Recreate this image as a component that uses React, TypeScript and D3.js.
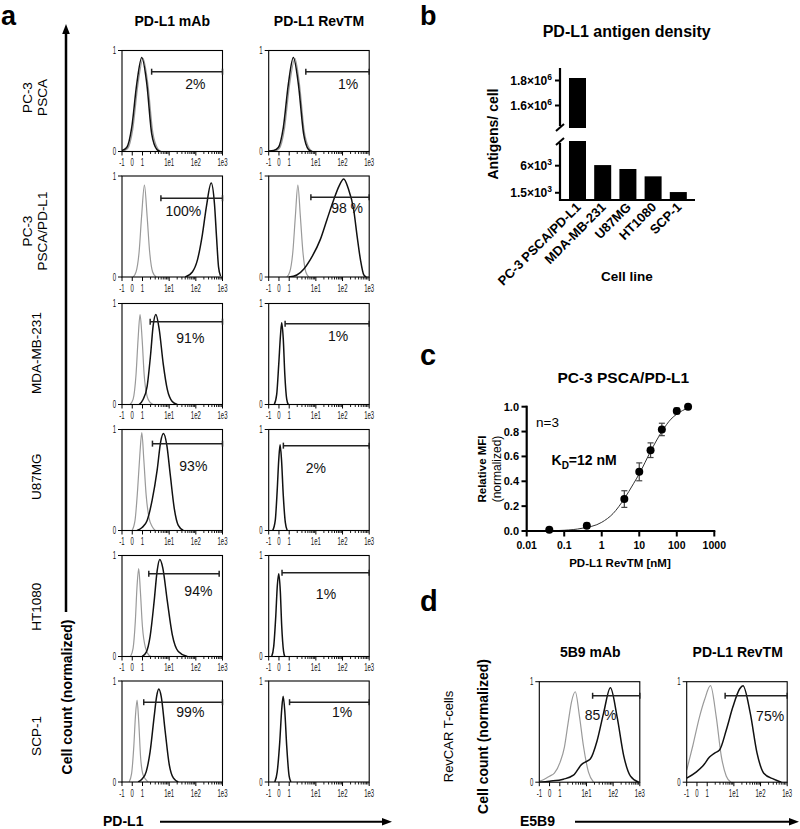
import React from "react";
import * as d3 from "d3";

const FONT = "'Liberation Sans', Arial, Helvetica, sans-serif";

// ================= DATA =================
// ---- Panel a: flow cytometry histograms (x = PD-L1 intensity, y = normalized count)
const rowLabels: string[][] = [
  ["PC-3", "PSCA"],
  ["PC-3", "PSCA/PD-L1"],
  ["MDA-MB-231"],
  ["U87MG"],
  ["HT1080"],
  ["SCP-1"],
];
const columnTitles = ["PD-L1 mAb", "PD-L1 RevTM"];
const xTickValues = [-1, 0, 1, 10, 100, 1000];
const xTickLabels = ["-1", "0", "1", "1e1", "1e2", "1e3"];
const minorTickValues = [2, 3, 4, 5, 6, 7, 8, 9, 20, 30, 40, 50, 60, 70, 80, 90, 200, 300, 400, 500, 600, 700, 800, 900];

type Pt = [number, number];

const mabControl: Pt[][] = [
  [[-1, 0], [-0.45, 0.03], [0.05, 0.22], [0.55, 0.66], [1.05, 0.92], [1.6, 0.66], [2.4, 0.2], [3.7, 0.03], [5, 0]],
  [[0.08, 0], [0.37, 0.05], [0.67, 0.25], [0.91, 0.6], [1.18, 0.91], [1.49, 0.6], [1.85, 0.25], [2.4, 0.05], [3.26, 0]],
  [[-0.22, 0], [0.08, 0.05], [0.37, 0.3], [0.57, 0.65], [0.76, 0.89], [0.96, 0.65], [1.15, 0.3], [1.49, 0.08], [1.93, 0.02], [2.51, 0]],
  [[-0.02, 0], [0.27, 0.1], [0.52, 0.4], [0.74, 0.75], [0.93, 0.97], [1.12, 0.7], [1.37, 0.35], [1.77, 0.12], [2.3, 0.04], [2.99, 0]],
  [[-0.17, 0], [0.08, 0.08], [0.3, 0.35], [0.47, 0.7], [0.63, 0.87], [0.79, 0.65], [0.99, 0.3], [1.31, 0.08], [1.77, 0.01], [2.11, 0]],
  [[-0.31, 0], [-0.07, 0.08], [0.15, 0.35], [0.31, 0.65], [0.47, 0.81], [0.63, 0.6], [0.81, 0.25], [1.05, 0.07], [1.37, 0.02], [1.63, 0]],
];
const mabStained: Pt[][] = [
  [[-1, 0.01], [-0.54, 0.04], [-0.05, 0.24], [0.44, 0.67], [0.93, 0.93], [1.45, 0.67], [2.2, 0.18], [3.46, 0.02], [4.6, 0]],
  [[40, 0], [74, 0.05], [115, 0.17], [176, 0.42], [250, 0.7], [376, 0.93], [501, 0.72], [596, 0.4], [710, 0.1], [844, 0.01]],
  [[0.67, 0], [1.05, 0.05], [1.49, 0.18], [2.02, 0.5], [2.51, 0.78], [3.17, 0.89], [4.2, 0.75], [6.0, 0.4], [8.5, 0.15], [13, 0.03], [20.2, 0]],
  [[0.47, 0], [0.96, 0.03], [1.49, 0.1], [2.3, 0.3], [3.55, 0.6], [4.81, 0.88], [6.1, 0.96], [8.1, 0.85], [11, 0.55], [15.5, 0.22], [22, 0.05], [34, 0]],
  [[0.96, 0], [1.37, 0.04], [1.93, 0.2], [2.74, 0.55], [3.55, 0.85], [4.45, 0.96], [5.73, 0.88], [8.5, 0.55], [13, 0.22], [22, 0.05], [48, 0]],
  [[0.57, 0], [0.96, 0.03], [1.37, 0.1], [1.93, 0.3], [2.74, 0.65], [3.4, 0.85], [4.08, 0.92], [5.0, 0.85], [7.1, 0.5], [10.1, 0.17], [14.3, 0.04], [22, 0]],
];
const revtmControl: (Pt[] | null)[] = [
  [[-0.52, 0], [0.03, 0.03], [0.53, 0.22], [1.03, 0.66], [1.64, 0.92], [2.44, 0.66], [3.67, 0.2], [5.7, 0.03], [7.6, 0]],
  [[0.76, 0], [1.05, 0.05], [1.37, 0.25], [1.7, 0.6], [2.11, 0.91], [2.62, 0.6], [3.26, 0.25], [4.2, 0.05], [5.5, 0]],
  null,
  null,
  null,
  null,
];
const revtmStained: Pt[][] = [
  [[-1, 0.005], [-0.52, 0.01], [-0.06, 0.04], [0.43, 0.24], [0.92, 0.67], [1.43, 0.93], [2.2, 0.67], [3.45, 0.18], [5.3, 0.02], [7.1, 0]],
  [[0.96, 0], [1.93, 0.02], [3.55, 0.08], [6.1, 0.17], [14.6, 0.37], [26.2, 0.57], [46, 0.76], [74, 0.9], [111, 0.97], [162, 0.88], [264, 0.66], [354, 0.4], [471, 0.17], [628, 0.02], [775, 0]],
  [[-0.46, 0], [-0.22, 0.1], [-0.02, 0.4], [0.16, 0.7], [0.27, 0.81], [0.42, 0.65], [0.57, 0.3], [0.76, 0.05], [0.91, 0]],
  [[-0.61, 0], [-0.36, 0.1], [-0.17, 0.4], [-0.02, 0.7], [0.11, 0.85], [0.25, 0.7], [0.42, 0.35], [0.62, 0.08], [0.81, 0]],
  [[-0.71, 0], [-0.51, 0.1], [-0.31, 0.4], [-0.16, 0.7], [-0.02, 0.82], [0.13, 0.65], [0.27, 0.3], [0.45, 0.05], [0.57, 0]],
  [[-0.41, 0], [-0.17, 0.1], [0.08, 0.4], [0.27, 0.72], [0.41, 0.85], [0.57, 0.7], [0.76, 0.35], [0.99, 0.06], [1.16, 0]],
];
// gates: [from, to, level]
const mabGates: [number, number, number][] = [
  [2.2, 1000, 0.79], [4.9, 1000, 0.78], [1.94, 1000, 0.82], [2.36, 1000, 0.86], [1.72, 750, 0.82], [1.11, 1000, 0.79],
];
const revtmGates: [number, number, number][] = [
  [4.2, 1000, 0.79], [6.5, 1000, 0.79], [0.6, 1000, 0.8], [0.43, 1000, 0.84], [0.3, 1000, 0.83], [1.03, 1000, 0.79],
];
const mabPercents = ["2%", "100%", "91%", "93%", "94%", "99%"];
const revtmPercents = ["1%", "98 %", "1%", "2%", "1%", "1%"];

// ---- Panel b: antigen density
const bCategories = ["PC-3 PSCA/PD-L1", "MDA-MB-231", "U87MG", "HT1080", "SCP-1"];
const bValues = [1820000, 6100, 5450, 4230, 1620];
const bUpperTicks = [1600000, 1800000];
const bLowerTicks = [1500, 6000];

// ---- Panel c: binding curve
const cConc = [0.04, 0.4, 4, 10, 20, 40, 100, 200];
const cMean = [0.01, 0.043, 0.257, 0.476, 0.65, 0.817, 0.966, 1.0];
const cErr = [0, 0.02, 0.067, 0.072, 0.059, 0.05, 0.023, 0];
const cFitConc = [0.04, 0.1, 0.3, 1, 2, 4, 7, 10, 20, 40, 70, 100, 200];
const cFitMean = [0.002, 0.006, 0.022, 0.07, 0.14, 0.26, 0.38, 0.46, 0.64, 0.8, 0.9, 0.94, 0.99];
const cXTicks = [0.01, 0.1, 1, 10, 100, 1000];
const cYTicks = [0, 0.2, 0.4, 0.6, 0.8, 1.0];

// ---- Panel d: RevCAR T-cells
const dTitles = ["5B9 mAb", "PD-L1 RevTM"];
const dControl: Pt[][] = [
  [[-1, 0.01], [-0.51, 0.03], [0, 0.06], [0.47, 0.09], [1.03, 0.2], [1.49, 0.35], [2.05, 0.59], [2.75, 0.8], [3.8, 0.9], [5.5, 0.65], [7.7, 0.36], [11.9, 0.1], [18.4, 0]],
  [[-1, 0.12], [-0.41, 0.36], [0.25, 0.65], [0.74, 0.82], [1.33, 0.96], [2.18, 0.65], [3.37, 0.26], [5.2, 0.06], [7.76, 0]],
];
const dStained: Pt[][] = [
  [[-1, 0], [0, 0.01], [1.36, 0.03], [3.25, 0.07], [6.8, 0.18], [9, 0.2], [13.9, 0.23], [24.9, 0.41], [44, 0.69], [79, 0.94], [141, 0.65], [251, 0.26], [447, 0.06], [910, 0]],
  [[-1, 0.04], [-0.08, 0.1], [0.57, 0.16], [1.22, 0.25], [1.9, 0.29], [2.9, 0.32], [5.2, 0.52], [9.2, 0.75], [16.6, 0.93], [22, 0.96], [41, 0.69], [74, 0.29], [132, 0.09], [312, 0.03], [600, 0]],
];
const dGates: [number, number, number][] = [[17, 1000, 0.86], [4.7, 1000, 0.86]];
const dPercents = ["85 %", "75%"];

// ================= LAYOUT =================
const aColLeft = [122, 268.7];
const aRowTop = [50.5, 176, 303.5, 429.5, 555.5, 681];
const aW = 100.5;
const aH = 101;
const aRowLabelY = [97.5, 231, 353, 476.7, 606.7, 736];
const mabLabelPos = [[0.73, 0.33], [0.61, 0.345], [0.68, 0.34], [0.71, 0.36], [0.76, 0.354], [0.68, 0.31]];
const revtmLabelPos = [[0.79, 0.33], [0.78, 0.315], [0.69, 0.32], [0.47, 0.38], [0.57, 0.377], [0.73, 0.31]];
const dColLeft = [539.3, 686.7];
const dTop = 681.7;
const dLabelPos = [[0.61, 0.33], [0.83, 0.34]];

// biexponential-like display transform: linear below 1, log above
const biexT = (v: number) => (v <= 1 ? v : 1 + 2.6 * Math.log10(v));
function biexScale(x0: number, x1: number) {
  const s = d3.scaleLinear().domain([biexT(-1), biexT(1000)]).range([x0, x1]);
  return (v: number) => s(biexT(v));
}

let clipCounter = 0;

function Histo(props: {
  left: number; top: number; w: number; h: number;
  control: Pt[] | null; stained: Pt[]; gate: [number, number, number];
  pct: string; labPos: number[];
}) {
  const { left, top, w, h, control, stained, gate, pct, labPos } = props;
  const x = biexScale(left, left + w);
  const y = d3.scaleLinear().domain([0, 1]).range([top + h, top]);
  const line = d3.line<Pt>().x((d) => x(d[0])).y((d) => y(d[1])).curve(d3.curveMonotoneX);
  const id = `clip${clipCounter++}`;
  const bottom = top + h;
  const gy = y(gate[2]);
  return (
    <g>
      <clipPath id={id}>
        <rect x={left} y={top - 2} width={w} height={h + 2} />
      </clipPath>
      <g clipPath={`url(#${id})`}>
        {control && <path d={line(control) || ""} fill="none" stroke="#9a9a9a" strokeWidth={1.2} />}
        <path d={line(stained) || ""} fill="none" stroke="#111" strokeWidth={1.5} />
      </g>
      <rect x={left} y={top} width={w} height={h} fill="none" stroke="#000" strokeWidth={1.1} />
      {/* gate */}
      <line x1={x(gate[0])} x2={x(gate[1])} y1={gy} y2={gy} stroke="#222" strokeWidth={1.5} />
      <line x1={x(gate[0])} x2={x(gate[0])} y1={gy - 3} y2={gy + 3} stroke="#222" strokeWidth={1.5} />
      <line x1={x(gate[1])} x2={x(gate[1])} y1={gy - 3} y2={gy + 3} stroke="#222" strokeWidth={1.5} />
      <text x={left + labPos[0] * w} y={top + labPos[1] * h} textAnchor="middle" dominantBaseline="central"
        fontSize={14} fontFamily={FONT} fill="#111">{pct}</text>
      {/* x ticks */}
      {xTickValues.map((v) => (
        <line key={"M" + v} x1={x(v)} x2={x(v)} y1={bottom} y2={bottom + 4} stroke="#000" strokeWidth={1} />
      ))}
      {minorTickValues.map((v) => (
        <line key={"m" + v} x1={x(v)} x2={x(v)} y1={bottom} y2={bottom + 2.5} stroke="#000" strokeWidth={0.9} />
      ))}
      {xTickValues.map((v, i) => (
        <text key={"t" + v} transform={`translate(${x(v)},${bottom + 14.5}) scale(0.6,1)`} textAnchor="middle"
          fontSize={10} fontFamily={FONT} fill="#111">{xTickLabels[i]}</text>
      ))}
      {/* y ticks */}
      {[0, 1].map((v) => (
        <g key={"y" + v}>
          <line x1={left - 4} x2={left} y1={y(v)} y2={y(v)} stroke="#000" strokeWidth={1} />
          <text transform={`translate(${left - 6},${y(v) + 3.5}) scale(0.6,1)`} textAnchor="end"
            fontSize={10} fontFamily={FONT} fill="#111">{v}</text>
        </g>
      ))}
    </g>
  );
}

function sciLabel(v: number) {
  const e = Math.floor(Math.log10(v));
  const m = +(v / Math.pow(10, e)).toFixed(1);
  return { m: String(m), e: String(e) };
}

function PanelB() {
  const x = d3.scaleBand<string>().domain(bCategories).range([560.8, 695]).padding(0.325);
  const yU = d3.scaleLinear().domain([1420000, 1900000]).range([128, 68]);
  const yL = d3.scaleLinear().domain([300, 10100]).range([200, 141]);
  const lowMax = yL.domain()[1];
  const upMin = yU.domain()[0];
  const axX = 560;
  return (
    <g fontFamily={FONT}>
      <text x={420} y={24.5} fontSize={27} fontWeight="bold">b</text>
      <text x={626.7} y={36.5} fontSize={16} fontWeight="bold" textAnchor="middle">PD-L1 antigen density</text>
      {bCategories.map((c, i) => {
        const v = bValues[i];
        const bx = x(c) as number;
        const bw = x.bandwidth();
        return (
          <g key={c}>
            <rect x={bx} y={yL(Math.min(v, lowMax))} width={bw} height={yL(300) - yL(Math.min(v, lowMax))} fill="#000" />
            {v > upMin && <rect x={bx} y={yU(v)} width={bw} height={yU(upMin) - yU(v)} fill="#000" />}
          </g>
        );
      })}
      {/* axes */}
      <line x1={axX} x2={axX} y1={68} y2={126} stroke="#000" strokeWidth={2.2} />
      <line x1={axX} x2={axX} y1={143} y2={201} stroke="#000" strokeWidth={2.2} />
      <line x1={axX - 4} x2={axX + 4} y1={131} y2={124} stroke="#000" strokeWidth={2} />
      <line x1={axX - 4} x2={axX + 4} y1={145} y2={138} stroke="#000" strokeWidth={2} />
      <line x1={axX - 1} x2={695} y1={200} y2={200} stroke="#000" strokeWidth={2.2} />
      {bUpperTicks.map((t) => {
        const l = sciLabel(t);
        return (
          <g key={t}>
            <line x1={axX - 5} x2={axX} y1={yU(t)} y2={yU(t)} stroke="#000" strokeWidth={2} />
            <text x={axX - 8} y={yU(t) + 4} fontSize={12} fontWeight="bold" textAnchor="end">
              {l.m}×10<tspan dy={-5} fontSize={8.5}>{l.e}</tspan>
            </text>
          </g>
        );
      })}
      {bLowerTicks.map((t) => {
        const l = sciLabel(t);
        return (
          <g key={t}>
            <line x1={axX - 5} x2={axX} y1={yL(t)} y2={yL(t)} stroke="#000" strokeWidth={2} />
            <text x={axX - 8} y={yL(t) + 4} fontSize={12} fontWeight="bold" textAnchor="end">
              {l.m}×10<tspan dy={-5} fontSize={8.5}>{l.e}</tspan>
            </text>
          </g>
        );
      })}
      <text transform="translate(498,134) rotate(-90)" fontSize={14} fontWeight="bold" textAnchor="middle">Antigens/ cell</text>
      {bCategories.map((c) => (
        <text key={c} transform={`translate(${(x(c) as number) + x.bandwidth() / 2 + 4},${208}) rotate(-45)`}
          fontSize={13} fontWeight="bold" textAnchor="end">{c}</text>
      ))}
      <text x={627} y={281} fontSize={13.5} fontWeight="bold" textAnchor="middle">Cell line</text>
    </g>
  );
}

function PanelC() {
  const x = d3.scaleLog().domain([0.01, 1000]).range([526.7, 714.3]);
  const y = d3.scaleLinear().domain([0, 1]).range([531, 406.7]);
  const fit = d3.line<number>().x((d) => x(d)).y((d, i) => y(cFitMean[i])).curve(d3.curveMonotoneX);
  const fmtX = (v: number) => (v < 1 ? String(v) : String(Math.round(v)));
  return (
    <g fontFamily={FONT}>
      <text x={420} y={365} fontSize={29} fontWeight="bold">c</text>
      <text x={623.3} y={383} fontSize={15.5} fontWeight="bold" textAnchor="middle">PC-3 PSCA/PD-L1</text>
      <path d={fit(cFitConc) || ""} fill="none" stroke="#333" strokeWidth={1} />
      {cConc.map((c, i) => (
        <g key={c}>
          {cErr[i] > 0 && (
            <g stroke="#444" strokeWidth={1.2}>
              <line x1={x(c)} x2={x(c)} y1={y(cMean[i] - cErr[i])} y2={y(cMean[i] + cErr[i])} />
              <line x1={x(c) - 3} x2={x(c) + 3} y1={y(cMean[i] - cErr[i])} y2={y(cMean[i] - cErr[i])} />
              <line x1={x(c) - 3} x2={x(c) + 3} y1={y(cMean[i] + cErr[i])} y2={y(cMean[i] + cErr[i])} />
            </g>
          )}
          <circle cx={x(c)} cy={y(cMean[i])} r={4} fill="#000" />
        </g>
      ))}
      <line x1={526.7} x2={526.7} y1={405.7} y2={532} stroke="#000" strokeWidth={2.2} />
      <line x1={525.6} x2={715.3} y1={531} y2={531} stroke="#000" strokeWidth={2.2} />
      {cYTicks.map((t) => (
        <g key={t}>
          <line x1={521.5} x2={526.7} y1={y(t)} y2={y(t)} stroke="#000" strokeWidth={2} />
          <text x={519} y={y(t) + 4} fontSize={11} fontWeight="bold" textAnchor="end">{t.toFixed(1)}</text>
        </g>
      ))}
      {cXTicks.map((t) => (
        <g key={t}>
          <line x1={x(t)} x2={x(t)} y1={531} y2={536.5} stroke="#000" strokeWidth={2} />
          <text x={x(t)} y={549} fontSize={10.5} fontWeight="bold" textAnchor="middle">{fmtX(t)}</text>
        </g>
      ))}
      <text x={620} y={567} fontSize={11.5} fontWeight="bold" textAnchor="middle">PD-L1 RevTM [nM]</text>
      <text transform="translate(486,469) rotate(-90)" fontSize={11.5} fontWeight="bold" textAnchor="middle">Relative MFI</text>
      <text transform="translate(500.5,469) rotate(-90)" fontSize={12} textAnchor="middle">(normalized)</text>
      <text x={536} y={427} fontSize={13.5}>n=3</text>
      <text x={551.5} y={465} fontSize={14} fontWeight="bold">
        K<tspan dy={4} fontSize={10}>D</tspan><tspan dy={-4}>=12 nM</tspan>
      </text>
    </g>
  );
}

export default function App() {
  clipCounter = 0;
  return (
    <svg width={800} height={829} viewBox="0 0 800 829"
      style={{ position: "absolute", left: 0, top: 0, background: "#fff" }}>
      <rect x={0} y={0} width={800} height={829} fill="#fff" />
      {/* ===== Panel a ===== */}
      <g fontFamily={FONT}>
        <text x={1} y={24.5} fontSize={27} fontWeight="bold">a</text>
        {columnTitles.map((t, i) => (
          <text key={t} x={aColLeft[i] + aW / 2} y={26} fontSize={14} fontWeight="bold" textAnchor="middle">{t}</text>
        ))}
        {rowLabels.map((lines, r) => (
          <text key={r} transform={`translate(${lines.length === 1 ? 40.5 : 32},${aRowLabelY[r]}) rotate(-90)`}
            fontSize={13.5} textAnchor="middle">
            {lines.map((ln, k) => (
              <tspan key={k} x={0} dy={k === 0 ? 0 : 14.5}>{ln}</tspan>
            ))}
          </text>
        ))}
        {/* vertical axis label with arrow */}
        <text transform="translate(71.5,697) rotate(-90)" fontSize={14} fontWeight="bold" textAnchor="middle">Cell count (normalized)</text>
        <line x1={66} x2={66} y1={612} y2={32} stroke="#000" strokeWidth={2.5} />
        <polygon points="66,24 62.2,34 69.8,34" fill="#000" />
        {/* horizontal axis label with arrow */}
        <text x={103} y={825.5} fontSize={14} fontWeight="bold">PD-L1</text>
        <line x1={160} x2={384} y1={821.7} y2={821.7} stroke="#000" strokeWidth={2} />
        <polygon points="392,821.7 382,818 382,825.4" fill="#000" />
      </g>
      {aRowTop.map((top, r) => (
        <g key={r}>
          <Histo left={aColLeft[0]} top={top} w={aW} h={aH} control={mabControl[r]} stained={mabStained[r]}
            gate={mabGates[r]} pct={mabPercents[r]} labPos={mabLabelPos[r]} />
          <Histo left={aColLeft[1]} top={top} w={aW} h={aH} control={revtmControl[r]} stained={revtmStained[r]}
            gate={revtmGates[r]} pct={revtmPercents[r]} labPos={revtmLabelPos[r]} />
        </g>
      ))}

      <PanelB />
      <PanelC />

      {/* ===== Panel d ===== */}
      <g fontFamily={FONT}>
        <text x={420} y={611} fontSize={29} fontWeight="bold">d</text>
        {dTitles.map((t, i) => (
          <text key={t} x={dColLeft[i] + 51} y={657} fontSize={14} fontWeight="bold" textAnchor="middle">{t}</text>
        ))}
        <text transform="translate(452.5,736.5) rotate(-90)" fontSize={13} textAnchor="middle">RevCAR T-cells</text>
        <text transform="translate(487.5,736.5) rotate(-90)" fontSize={14} fontWeight="bold" textAnchor="middle">Cell count (normalized)</text>
        <text x={520} y={825.5} fontSize={14} fontWeight="bold">E5B9</text>
        <line x1={575} x2={790} y1={821.7} y2={821.7} stroke="#000" strokeWidth={2} />
        <polygon points="799,821.7 789,818 789,825.4" fill="#000" />
      </g>
      {dColLeft.map((left, i) => (
        <Histo key={i} left={left} top={dTop} w={100.5} h={100.5} control={dControl[i]} stained={dStained[i]}
          gate={dGates[i]} pct={dPercents[i]} labPos={dLabelPos[i]} />
      ))}
    </svg>
  );
}
